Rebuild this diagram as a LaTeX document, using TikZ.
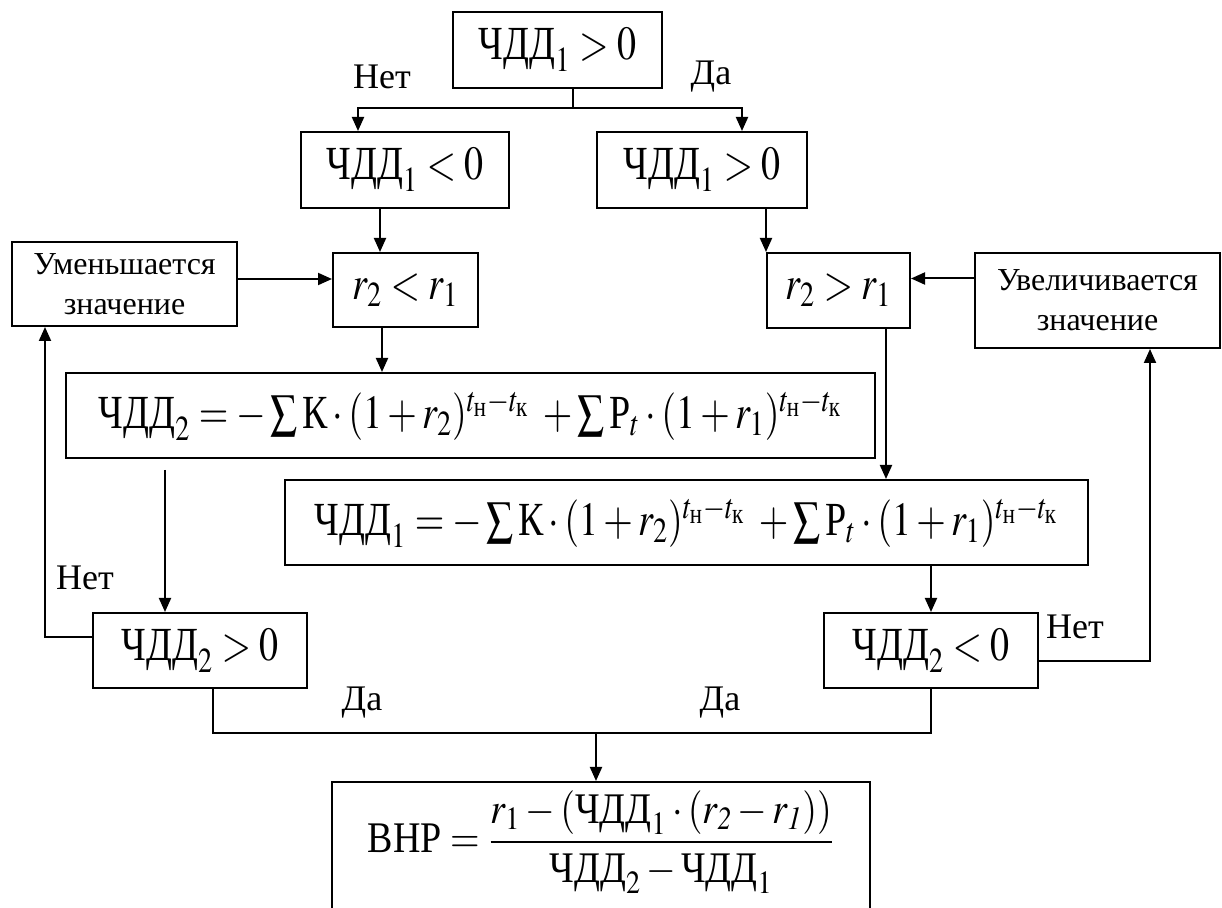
\documentclass[tikz,border=0pt]{standalone}
\usepackage{amsmath}
\usepackage{graphicx}
\usepackage{mathptmx}
\usepackage{fontspec}
\setmainfont{Liberation Serif}
\usetikzlibrary{arrows.meta}

\newcommand{\chdd}{\text{ЧДД}}
\newcommand{\tnk}{t_{\text{н}}-t_{\text{к}}}
\newcommand{\tall}[1]{\scalebox{1}[1.25]{#1}}

\begin{document}
\begin{tikzpicture}[x=0.5pt, y=-0.5pt, line width=1pt, >={Triangle[length=7pt,width=6pt]},
	box/.style={draw, line width=1pt, inner sep=0pt, align=center, font=\fontsize{19}{23}\selectfont},
	note/.style={draw, line width=1pt, inner sep=0pt, align=center, font=\fontsize{16}{20}\selectfont},
	lab/.style={inner sep=0pt, font=\fontsize{18}{20}\selectfont}]
	\useasboundingbox (0,0) rectangle (1222,908);
	\node[box, minimum width=104.5pt, minimum height=38pt] (top) at (557.5,50) {\tall{$\chdd_1>0$}};
	\node[box, minimum width=104pt, minimum height=38pt] (n1neg) at (405,170) {\tall{$\chdd_1<0$}};
	\node[box, minimum width=105pt, minimum height=38pt] (n1pos) at (702,170) {\tall{$\chdd_1>0$}};
	\node[note, minimum width=112.5pt, minimum height=42pt] (dec) at (124.5,284) {Уменьшается\\значение};
	\node[box, minimum width=72.5pt, minimum height=37pt] (rlt) at (405.5,290) {\tall{$r_2<r_1$}};
	\node[box, minimum width=71.5pt, minimum height=37.5pt] (rgt) at (838.5,290.5) {\tall{$r_2>r_1$}};
	\node[note, minimum width=122.5pt, minimum height=47.5pt] (inc) at (1097.5,300.5) {Увеличивается\\значение};
	\node[box, minimum width=404.5pt, minimum height=42.5pt] (f2) at (470.5,415.5)
		{\tall{$\chdd_2=-\sum\text{К}\cdot(1+r_2)^{\tnk}\;+\sum\text{Р}_t\cdot(1+r_1)^{\tnk}$}};
	\node[box, minimum width=401.5pt, minimum height=42.5pt] (f1) at (686.5,522.5)
		{\tall{$\chdd_1=-\sum\text{К}\cdot(1+r_2)^{\tnk}\;+\sum\text{Р}_t\cdot(1+r_1)^{\tnk}$}};
	\node[box, minimum width=107pt, minimum height=37.5pt] (c2pos) at (200,650.5) {\tall{$\chdd_2>0$}};
	\node[box, minimum width=107pt, minimum height=37.5pt] (c2neg) at (931,650.5) {\tall{$\chdd_2<0$}};
	\node[box, minimum width=269pt, minimum height=66pt] (vnp) at (601,848)
		{\raisebox{3pt}[\height][\depth]{\scalebox{1}[1.15]{$\text{ВНР}=\dfrac{r_1-(\chdd_1\cdot(r_{\mathit{2}}-r_{\mathit{1}}))}{\chdd_2-\chdd_1}$}}};
	\node[lab] (no1) at (382,77) {Нет};
	\node[lab] (yes1) at (711,77) {Да};
	\node[lab] (no2) at (85,578) {Нет};
	\node[lab] (no3) at (1075,627) {Нет};
	\node[lab] (yes2) at (362,703) {Да};
	\node[lab] (yes3) at (720,703) {Да};
	\coordinate (split) at (573,108);
	\coordinate (join) at (596,733);
	\coordinate (gap) at ([yshift=-5.5pt]f2.south);
	\draw (split |- top.south) -- (split);
	\draw[->] (split) -| ([xshift=-23.5pt]n1neg.north);
	\draw[->] (split) -| ([xshift=20pt]n1pos.north);
	\draw[->] ([xshift=-12.5pt]n1neg.south) -- ([xshift=-12.5pt]n1neg.south |- rlt.north);
	\draw[->] (rgt.north west |- n1pos.south) -- (rgt.north west);
	\draw[->] ([yshift=2.5pt]dec.east) -- ([yshift=2.5pt]dec.east -| rlt.west);
	\draw[->] ([yshift=11pt]inc.west) -- ([yshift=11pt]inc.west -| rgt.east);
	\draw[->] ([xshift=-11.75pt]rlt.south) -- ([xshift=-11.75pt]rlt.south |- f2.north);
	\draw[->] ([xshift=23.75pt]rgt.south) -- ([xshift=23.75pt]rgt.south |- f1.north);
	\draw[->] ([xshift=-17.5pt]c2pos.north |- gap) -- ([xshift=-17.5pt]c2pos.north);
	\draw[->] (c2neg.north |- f1.south) -- (c2neg.north);
	\draw[->] ([yshift=6.75pt]c2pos.west) -| ([xshift=-39.75pt]dec.south);
	\draw[->] ([yshift=-5.25pt]c2neg.east) -| ([xshift=26.25pt]inc.south);
	\draw ([xshift=6.5pt]c2pos.south) |- (c2neg.south |- join) -- (c2neg.south);
	\draw[->] (join) -- (join |- vnp.north);
\end{tikzpicture}
\end{document}
